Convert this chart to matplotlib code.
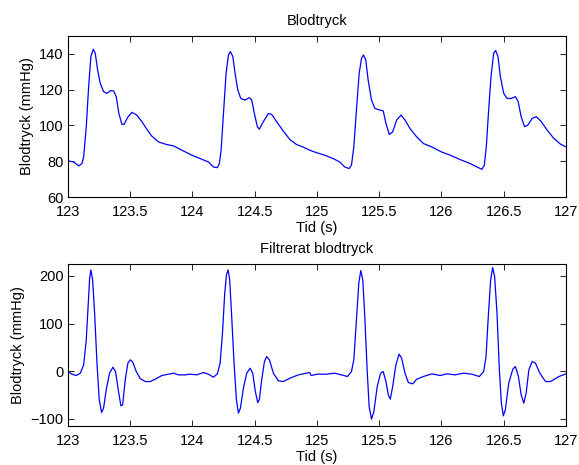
import matplotlib
matplotlib.use("Agg")
from matplotlib import pyplot as plt

# raw pressure (s, mmHg)
t_raw = [123.0, 123.045, 123.086, 123.112, 123.126, 123.147, 123.166, 123.184, 123.203, 123.219,
         123.238, 123.259, 123.286, 123.313, 123.34, 123.366, 123.388, 123.409, 123.433, 123.452,
         123.479, 123.513, 123.553, 123.594, 123.634, 123.674, 123.727, 123.794, 123.848, 123.914,
         123.995, 124.061, 124.128, 124.168, 124.2, 124.216, 124.23, 124.249, 124.27, 124.289,
         124.305, 124.324, 124.342, 124.364, 124.388, 124.422, 124.457, 124.476, 124.497, 124.521,
         124.537, 124.569, 124.61, 124.636, 124.676, 124.73, 124.783, 124.837, 124.887, 124.94,
         125.0, 125.062, 125.129, 125.183, 125.223, 125.258, 125.277, 125.296, 125.317, 125.339,
         125.358, 125.374, 125.392, 125.411, 125.438, 125.465, 125.505, 125.532, 125.554, 125.581,
         125.608, 125.64, 125.675, 125.707, 125.747, 125.801, 125.855, 125.922, 126.0, 126.07,
         126.151, 126.231, 126.285, 126.325, 126.344, 126.36, 126.379, 126.398, 126.419, 126.435,
         126.454, 126.473, 126.5, 126.527, 126.562, 126.594, 126.616, 126.64, 126.667, 126.694,
         126.728, 126.761, 126.796, 126.849, 126.903, 126.957, 127.0]
bp_raw = [80.2, 79.6, 77.4, 78.7, 82.4, 99.3, 121.7, 138.5, 142.6, 140.4,
          131.0, 123.6, 118.9, 117.9, 119.4, 119.4, 116.0, 106.7, 100.6, 100.7,
          104.5, 107.3, 105.8, 102.1, 97.8, 94.0, 90.8, 89.3, 88.6, 86.2,
          83.4, 81.5, 79.6, 76.8, 76.4, 78.7, 86.2, 106.7, 129.2, 139.4,
          141.3, 138.5, 129.2, 119.8, 115.1, 114.2, 115.5, 114.2, 106.7, 99.3,
          97.9, 102.1, 106.7, 106.2, 102.1, 96.8, 92.1, 89.3, 88.0, 86.2,
          84.7, 83.4, 81.5, 79.6, 76.8, 75.9, 77.8, 88.0, 108.6, 129.2,
          137.6, 139.4, 136.6, 125.4, 114.2, 109.5, 108.6, 108.2, 101.1, 95.0,
          96.4, 103.0, 105.8, 103.0, 98.3, 93.6, 89.9, 88.0, 85.2, 83.4,
          80.9, 78.7, 76.8, 75.5, 77.8, 88.0, 108.6, 127.3, 140.4, 141.9,
          138.5, 127.3, 117.9, 115.1, 115.1, 116.1, 113.3, 104.9, 99.3, 100.2,
          103.9, 104.9, 102.6, 97.4, 92.7, 89.5, 88.0]

# filtered pressure (s, mmHg)
t_filt = [123.0, 123.032, 123.067, 123.099, 123.126, 123.147, 123.163, 123.174, 123.184, 123.198,
          123.214, 123.233, 123.251, 123.27, 123.286, 123.307, 123.334, 123.361, 123.382, 123.404,
          123.425, 123.439, 123.46, 123.481, 123.5, 123.521, 123.548, 123.58, 123.62, 123.66,
          123.701, 123.754, 123.807, 123.848, 123.888, 123.941, 123.981, 124.035, 124.088, 124.128,
          124.168, 124.2, 124.222, 124.241, 124.259, 124.273, 124.286, 124.299, 124.315, 124.334,
          124.353, 124.369, 124.385, 124.409, 124.436, 124.463, 124.484, 124.505, 124.524, 124.537,
          124.556, 124.578, 124.596, 124.618, 124.65, 124.69, 124.73, 124.783, 124.85, 124.941,
          124.954, 125.0, 125.075, 125.142, 125.196, 125.245, 125.277, 125.296, 125.317, 125.336,
          125.352, 125.368, 125.384, 125.403, 125.419, 125.438, 125.457, 125.484, 125.511, 125.532,
          125.554, 125.573, 125.589, 125.608, 125.634, 125.659, 125.68, 125.707, 125.734, 125.769,
          125.801, 125.855, 125.922, 125.989, 126.043, 126.11, 126.177, 126.245, 126.304, 126.339,
          126.358, 126.376, 126.395, 126.411, 126.427, 126.446, 126.465, 126.481, 126.497, 126.513,
          126.54, 126.573, 126.594, 126.618, 126.64, 126.661, 126.68, 126.702, 126.728, 126.755,
          126.79, 126.836, 126.876, 126.943, 127.0]
bp_filt = [-0.7, -6.3, -9.1, -4.2, 13.3, 65.7, 142.7, 195.0, 212.6, 191.6,
           121.7, 16.8, -60.0, -86.7, -77.6, -39.2, -4.2, 8.4, -0.7, -39.2,
           -72.7, -70.6, -18.2, 16.8, 23.8, 18.9, -0.7, -15.4, -21.7, -21.7,
           -16.8, -9.1, -6.3, -4.2, -7.7, -7.7, -6.3, -7.7, -2.8, -6.3,
           -12.6, -5.6, 16.8, 79.7, 163.6, 202.0, 212.6, 191.6, 114.7, 16.8,
           -60.0, -88.0, -77.6, -35.7, -4.2, 6.3, -4.2, -42.7, -65.7, -60.0,
           -18.2, 20.3, 30.8, 23.8, -4.2, -20.3, -21.7, -14.7, -7.7, -2.8,
           -9.1, -6.3, -6.3, -4.2, -7.7, -11.2, -0.7, 23.8, 107.7, 184.6,
           211.2, 191.6, 114.7, 2.8, -74.1, -100.7, -84.6, -32.2, -4.2, -0.7,
           -21.7, -49.7, -58.7, -32.2, 13.3, 35.7, 27.3, -4.2, -23.8, -26.6,
           -16.8, -11.2, -5.6, -9.1, -5.6, -7.7, -4.2, -6.3, -11.2, -0.7,
           30.8, 114.7, 191.6, 217.5, 198.6, 121.7, 2.8, -67.1, -93.7, -81.1,
           -25.2, 4.2, 9.8, -11.2, -49.7, -67.1, -46.2, 2.8, 20.3, 16.8,
           -4.2, -21.7, -21.7, -11.2, -5.6]

x_ticks = [123, 123.5, 124, 124.5, 125, 125.5, 126, 126.5, 127]
x_labels = ["123", "123.5", "124", "124.5", "125", "125.5", "126", "126.5", "127"]
y_ticks_raw = [60, 80, 100, 120, 140]
y_ticks_filt = [-100, 0, 100, 200]

plt.rcParams["font.family"] = ["Liberation Sans", "DejaVu Sans"]
plt.rcParams["font.size"] = 10.5

fig = plt.figure(figsize=(5.79, 4.65), dpi=100)
ax1 = fig.add_axes([0.1174, 0.5763, 0.8601, 0.3463])
ax2 = fig.add_axes([0.1174, 0.0839, 0.8601, 0.3484])

ax1.plot(t_raw, bp_raw, color="#0000ff", lw=0.9)
ax1.set_xlim(123, 127)
ax1.set_ylim(60, 150)
ax1.set_yticks(y_ticks_raw)
ax1.set_title("Blodtryck", fontsize=10.5, pad=8)
ax1.set_ylabel("Blodtryck (mmHg)")

ax2.plot(t_filt, bp_filt, color="#0000ff", lw=0.9)
ax2.set_xlim(123, 127)
ax2.set_ylim(-115, 225)
ax2.set_yticks(y_ticks_filt)
ax2.set_yticklabels(["\u2212100", "0", "100", "200"])
ax2.set_title("Filtrerat blodtryck", fontsize=10.5, pad=8)
ax2.set_ylabel("Blodtryck (mmHg)")

for ax in (ax1, ax2):
    ax.set_xticks(x_ticks)
    ax.set_xticklabels(x_labels)
    ax.set_xlabel("Tid (s)", labelpad=1)
    ax.tick_params(direction="in", top=True, right=True, length=4, width=0.6)
    ax.tick_params(axis="x", pad=6)
    ax.tick_params(axis="y", pad=3)
    for s in ax.spines.values():
        s.set_linewidth(0.8)

fig.savefig("out.png", dpi=100)
